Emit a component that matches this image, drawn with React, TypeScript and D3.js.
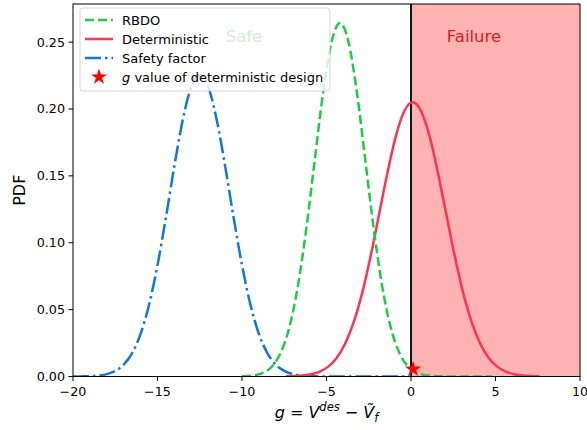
import React from "react";
import * as d3 from "d3";

const xTicks = [-20, -15, -10, -5, 0, 5, 10];
const yTicks = [0, 0.05, 0.1, 0.15, 0.2, 0.25];

const blueX = [-20, -19.5, -19, -18.5, -18, -17.5, -17, -16.5, -16, -15.5, -15, -14.5, -14, -13.5, -13, -12.5, -12, -11.5, -11, -10.5, -10, -9.5, -9, -8.5, -8, -7.5, -7, -6.5, -6, -5.5, -5, -4.5, -4, -3.5, -3, -2.5, -2, -1.5, -1, -0.5, 0];
const blueY = [0.00003, 0.00009, 0.00027, 0.00072, 0.0018, 0.0042, 0.0089, 0.0175, 0.0319, 0.0536, 0.0832, 0.1191, 0.1575, 0.1922, 0.2167, 0.2255, 0.2167, 0.1922, 0.1575, 0.1191, 0.0832, 0.0536, 0.0319, 0.0175, 0.0089, 0.0042, 0.0018, 0.00072, 0.00027, 0.00009, 0.00003, 0, 0, 0, 0, 0, 0, 0, 0, 0, 0];

const greenX = [-10, -9.7, -9.2, -8.7, -8.2, -7.7, -7.2, -6.7, -6.2, -5.7, -5.2, -4.7, -4.2, -3.7, -3.2, -2.7, -2.2, -1.7, -1.2, -0.7, -0.2, 0.3, 0.8, 1.3, 1.8, 2.3, 2.8, 3.3, 3.8, 4.3, 4.8];
const greenY = [0.00015, 0.00035, 0.0011, 0.0031, 0.0079, 0.018, 0.0367, 0.0671, 0.11, 0.1614, 0.2123, 0.2502, 0.2643, 0.2502, 0.2123, 0.1614, 0.11, 0.0671, 0.0367, 0.018, 0.0079, 0.0031, 0.0011, 0.00035, 0.0001, 0.00003, 0, 0, 0, 0, 0];

const redX = [-7.4, -6.9, -6.4, -5.9, -5.4, -4.9, -4.4, -3.9, -3.4, -2.9, -2.4, -1.9, -1.4, -0.9, -0.4, 0.1, 0.6, 1.1, 1.6, 2.1, 2.6, 3.1, 3.6, 4.1, 4.6, 5.1, 5.6, 6.1, 6.6, 7.1, 7.6];
const redY = [0.00012, 0.00031, 0.00075, 0.0017, 0.0037, 0.0074, 0.0139, 0.0245, 0.0403, 0.062, 0.0894, 0.1205, 0.152, 0.1795, 0.1983, 0.205, 0.1983, 0.1795, 0.152, 0.1205, 0.0894, 0.062, 0.0403, 0.0245, 0.0139, 0.0074, 0.0037, 0.0017, 0.00075, 0.00031, 0.00012];

const starX = [0.12];
const starY = [0.0055];

const failureRange = [0, 10];

const legendLabels = ["RBDO", "Deterministic", "Safety factor", "value of deterministic design"];

const GREEN = "#1fcb46";
const RED = "#ff3352";
const BLUE = "#1276dd";
const FONT = "DejaVu Sans, Verdana, sans-serif";

export default function App() {
  const W = 587, H = 430;
  const left = 73, right = 580, top = 4, bottom = 376.5;
  const x = d3.scaleLinear().domain([-20, 10]).range([left, right]);
  const y = d3.scaleLinear().domain([0, 0.2785]).range([bottom, top]);
  const line = d3
    .line<[number, number]>()
    .x((d) => x(d[0]))
    .y((d) => y(d[1]))
    .curve(d3.curveMonotoneX);
  const zip = (xs: number[], ys: number[]) => xs.map((v, i) => [v, ys[i]] as [number, number]);
  const star = d3.symbol().type(d3.symbolStar).size(80)() as string;
  const fmtX = (v: number) => (v < 0 ? "\u2212" + Math.abs(v) : String(v));
  const fmtY = (v: number) => v.toFixed(2);

  const legY = [20, 39, 58, 77];
  const hx0 = 85, hx1 = 113, tx = 122;

  return (
    <div style={{ position: "absolute", left: 0, top: 0 }}>
      <svg width={W} height={H} style={{ display: "block", background: "#fff" }} fontFamily={FONT}>
        <defs>
          <clipPath id="plotclip">
            <rect x={left} y={top} width={right - left} height={bottom - top} />
          </clipPath>
        </defs>
        <rect x={0} y={0} width={W} height={H} fill="#fff" />
        <rect
          x={x(failureRange[0])}
          y={top}
          width={x(failureRange[1]) - x(failureRange[0])}
          height={bottom - top}
          fill="#ff0000"
          fillOpacity={0.3}
        />
        <g clipPath="url(#plotclip)">
          <line x1={x(0)} x2={x(0)} y1={top} y2={bottom} stroke="#000" strokeWidth={1.8} />
          <path d={line(zip(blueX, blueY)) || ""} fill="none" stroke={BLUE} strokeWidth={2.5} strokeDasharray="16,4,2.5,4" />
          <path d={line(zip(redX, redY)) || ""} fill="none" stroke={RED} strokeWidth={2.5} />
          <path d={line(zip(greenX, greenY)) || ""} fill="none" stroke={GREEN} strokeWidth={2.5} strokeDasharray="9,4" />
          {starX.map((sx, i) => (
            <path key={i} d={star} transform={`translate(${x(sx)},${y(starY[i])})`} fill="#ff0000" />
          ))}
        </g>
        <text x={244} y={42} textAnchor="middle" fontSize={16.5} fill="#2ca02c">Safe</text>
        <text x={474} y={42} textAnchor="middle" fontSize={16.5} fill="#d41f1f">Failure</text>

        {/* axes */}
        <rect x={left} y={top} width={right - left} height={bottom - top} fill="none" stroke="#000" strokeWidth={1} />
        {xTicks.map((t) => (
          <g key={t}>
            <line x1={x(t)} x2={x(t)} y1={bottom} y2={bottom + 4.5} stroke="#000" strokeWidth={1} />
            <text x={x(t)} y={bottom + 19} textAnchor="middle" fontSize={12.7} fill="#000">{fmtX(t)}</text>
          </g>
        ))}
        {yTicks.map((t) => (
          <g key={t}>
            <line x1={left - 4.5} x2={left} y1={y(t)} y2={y(t)} stroke="#000" strokeWidth={1} />
            <text x={left - 8} y={y(t) + 4.5} textAnchor="end" fontSize={12.7} fill="#000">{fmtY(t)}</text>
          </g>
        ))}
        <text transform={`translate(25,${(top + bottom) / 2}) rotate(-90)`} textAnchor="middle" fontSize={16} fill="#000">PDF</text>
        <text x={(left + right) / 2} y={418} textAnchor="middle" fontSize={16} fill="#000">
          <tspan fontStyle="italic">g</tspan>
          <tspan> = </tspan>
          <tspan fontStyle="italic">V</tspan>
          <tspan fontStyle="italic" fontSize={11.5} dy={-7}>des</tspan>
          <tspan dy={7}> {"\u2212"} </tspan>
          <tspan fontStyle="italic">{"V\u0303"}</tspan>
          <tspan fontStyle="italic" fontSize={11.5} dy={4}>f</tspan>
        </text>

        {/* legend */}
        <rect x={80} y={8} width={250} height={83} rx={3} fill="#fff" fillOpacity={0.8} stroke="#cccccc" strokeOpacity={0.8} />
        <line x1={hx0} x2={hx1} y1={legY[0]} y2={legY[0]} stroke={GREEN} strokeWidth={2.5} strokeDasharray="9,4" />
        <line x1={hx0} x2={hx1} y1={legY[1]} y2={legY[1]} stroke={RED} strokeWidth={2.5} />
        <line x1={hx0} x2={hx1} y1={legY[2]} y2={legY[2]} stroke={BLUE} strokeWidth={2.5} strokeDasharray="16,4,2.5,4" />
        <path d={star} transform={`translate(${(hx0 + hx1) / 2},${legY[3]})`} fill="#ff0000" />
        {legendLabels.map((lab, i) => (
          <text key={i} x={tx} y={legY[i] + 4.7} fontSize={13} fill="#000">
            {i === 3 ? <tspan fontStyle="italic">g </tspan> : null}
            {lab}
          </text>
        ))}
      </svg>
    </div>
  );
}
